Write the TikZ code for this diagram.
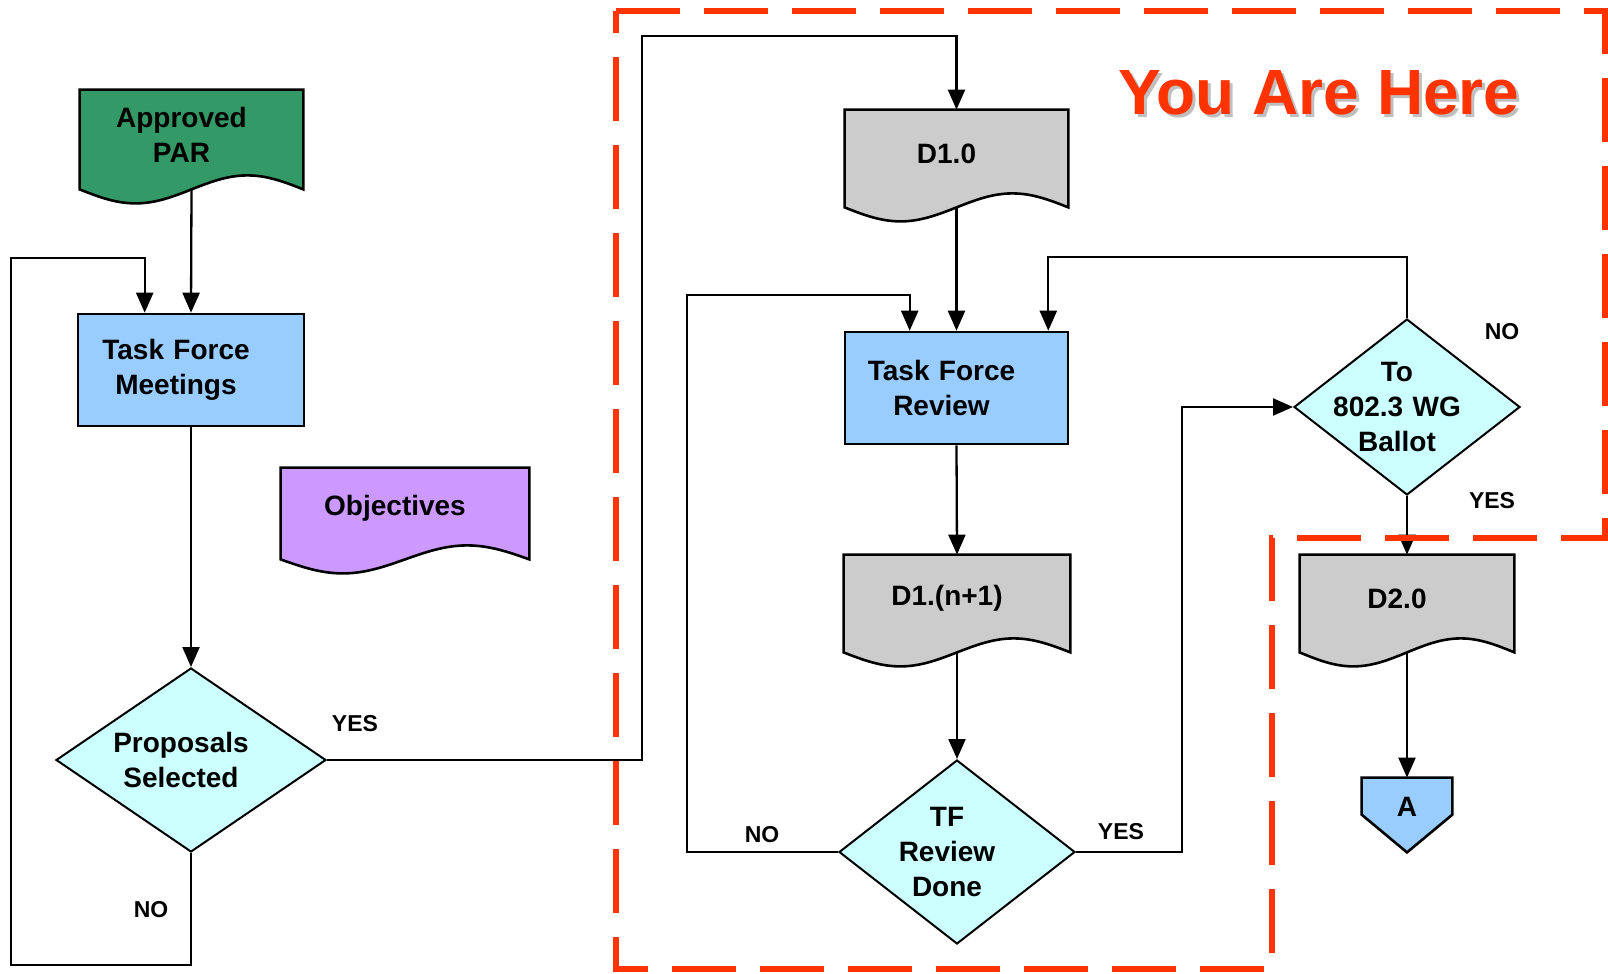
\documentclass[tikz,border=0pt]{standalone}
\usepackage{fontspec}
\setmainfont{Liberation Sans}
\usepackage{tikz}
\usetikzlibrary{arrows.meta, shapes.geometric, calc}

\definecolor{ParGreen}{HTML}{339966}
\definecolor{BoxBlue}{HTML}{99CCFF}
\definecolor{DocGray}{HTML}{CCCCCC}
\definecolor{DiaCyan}{HTML}{CCFFFF}
\definecolor{ObjPurple}{HTML}{CC99FF}
\definecolor{HereRed}{HTML}{FF3300}

\pgfdeclarelayer{background}
\pgfsetlayers{background,main}

% wavy document outline behind a docbox node
\newcommand{\docwave}[2]{%
  \begin{pgfonlayer}{background}
    \draw[line width=1.3pt, fill=#2] (#1.south west) -- (#1.north west) -- (#1.north east) -- (#1.south east)
      sin ($(#1.south east)!.25!(#1.south west)+(0,-14)$)
      cos (#1.south)
      sin ($(#1.south east)!.75!(#1.south west)+(0,14)$)
      cos (#1.south west) -- cycle;
  \end{pgfonlayer}}

% off-page connector outline behind a node
\newcommand{\pageconn}[2]{%
  \begin{pgfonlayer}{background}
    \draw[line width=1.3pt, fill=#2] (#1.north west) -- (#1.north east) -- ($(#1.north east)+(0,37)$)
      -- ($(#1.south)+(0,16)$) -- ($(#1.north west)+(0,37)$) -- cycle;
  \end{pgfonlayer}}

% centred lines, nudged left by half of #1
\newcommand{\nudge}[1]{\leftskip=0pt plus 1fil\rightskip=#1 plus 1fil\parfillskip=0pt}

\begin{document}
\begin{tikzpicture}[x=0.5pt, y=-0.5pt,
    every node/.style={font=\bfseries\fontsize{14}{17.5}\selectfont, align=center},
    docbox/.style={rectangle, inner sep=0pt, text width=90pt,
      execute at begin node={\nudge{10pt}}, execute at end node={\endgraf\kern5pt}},
    connbox/.style={rectangle, inner sep=0pt},
    taskbox/.style={rectangle, draw, line width=1.3pt, fill=BoxBlue, inner sep=0pt, text width=96pt,
      execute at begin node={\nudge{15pt}}},
    decision/.style={diamond, draw, line width=1pt, fill=DiaCyan, inner sep=-16pt, text width=82pt,
      execute at begin node={\nudge{10pt}}},
    flow/.style={-{Triangle[length=10pt,width=8.5pt]}, line width=1.15pt},
    answer/.style={font=\bfseries\fontsize{11.5}{13}\selectfont},
    herelabel/.style={font=\bfseries\fontsize{32}{38}\selectfont},
    zone/.style={draw=HereRed, line width=3pt, dash pattern=on 32pt off 12pt}]
  \useasboundingbox (0,0) rectangle (1608,974);

  % left column
  \node[docbox, minimum width=111.5pt, minimum height=49.5pt] (par) at (191.5,139.5) {Approved\\PAR};
  \docwave{par}{ParGreen}
  \node[taskbox, minimum width=113pt, minimum height=56pt] (tfm) at (191,370) {Task Force\\Meetings};
  \node[docbox, minimum width=124pt, minimum height=45.5pt] (obj) at (405,513.5) {Objectives};
  \docwave{obj}{ObjPurple}
  \node[decision, minimum width=135pt, minimum height=92pt] (ps) at (191,760) {Proposals\\Selected};

  % draft column
  \node[docbox, minimum width=111.5pt, minimum height=48.5pt] (d10) at (956.5,158.5) {D1.0};
  \docwave{d10}{DocGray}
  \node[taskbox, minimum width=111.5pt, minimum height=56pt] (tfr) at (956.5,388) {Task Force\\Review};
  \node[docbox, minimum width=113pt, minimum height=48.5pt] (d1n) at (957,603.5) {D1.(n+1)};
  \docwave{d1n}{DocGray}
  \node[decision, minimum width=118pt, minimum height=92pt] (tfrd) at (957,852) {TF\\Review\\Done};

  % ballot column
  \node[decision, minimum width=113pt, minimum height=88pt] (ballot) at (1407,407) {To\\802.3 WG\\Ballot};
  \node[docbox, minimum width=107pt, minimum height=48.5pt] (d20) at (1407,603.5) {D2.0};
  \docwave{d20}{DocGray}
  \node[connbox, minimum width=45pt, minimum height=29pt] (a) at (1407,807) {A};
  \pageconn{a}{BoxBlue}

  % connectors
  \draw[flow] (par.south) -- (tfm.north);
  \draw[flow] (tfm.south) -- (ps.north);
  \draw[flow] (ps.south) -- ++(0,112) -| (11,258) -| ($(tfm.north west)+(68,0)$);
  \draw[flow] (ps.east) -| (642,36) -| (d10.north);
  \draw[flow] (d10.south) -- (tfr.north);
  \draw[flow] (tfr.south) -- (d1n.north);
  \draw[flow] (d1n.south) -- (tfrd.north);
  \draw[flow] (tfrd.west) -| (687,295) -| ($(tfr.north west)+(66,0)$);
  \draw[flow] (tfrd.east) -- ++(106,0) |- (ballot.west);
  \draw[flow] (ballot.north) -- ++(0,-61) -| ($(tfr.north east)+(-21,0)$);
  \draw[flow] (ballot.south) -- (d20.north);
  \draw[flow] (d20.south) -- (a.north);

  % answers
  \node[answer] (psyes) at (355,724) {YES};
  \node[answer] (psno) at (151,910) {NO};
  \node[answer] (tfrdno) at (762,835) {NO};
  \node[answer] (tfrdyes) at (1121,832) {YES};
  \node[answer] (ballotno) at (1502,332) {NO};
  \node[answer] (ballotyes) at (1492,501) {YES};

  % you are here
  \node[herelabel, text=black!25] (hereshadow) at (1322,96) {You Are Here};
  \node[herelabel, text=HereRed] (here) at (1319,93) {You Are Here};
  \draw[zone] (616,11) -- (1605,11) -- (1605,538) -- (1272,538) -- (1272,969) -- (616,969) -- cycle;
\end{tikzpicture}
\end{document}
